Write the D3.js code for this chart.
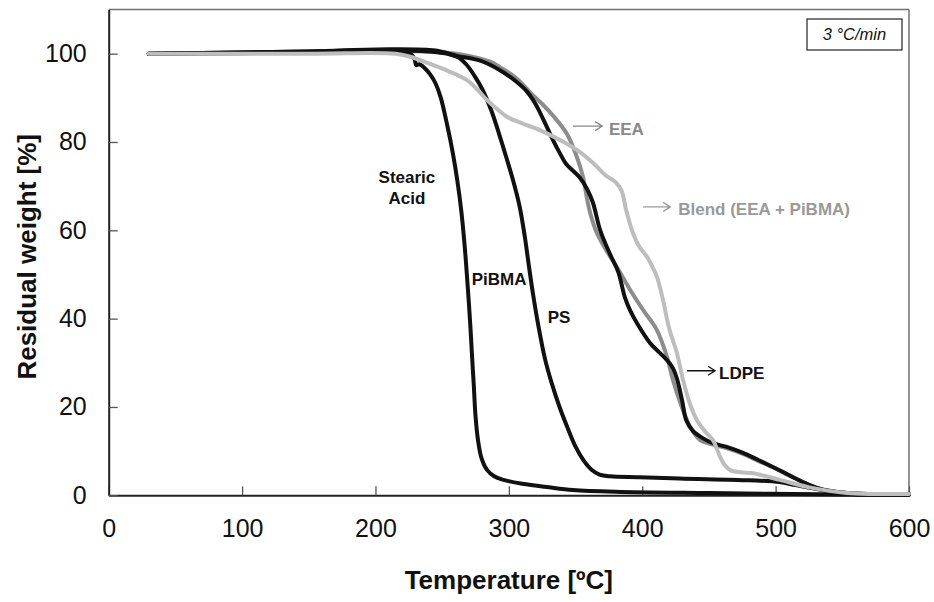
<!DOCTYPE html>
<html><head><meta charset="utf-8">
<script src="https://cdn.jsdelivr.net/npm/d3@7"></script>
<style>body{margin:0;background:#fff}text{font-family:"Liberation Sans",Arial,sans-serif}</style>
</head><body><svg id="c" width="934" height="602"></svg>
<script>
const xTicks=[0,100,200,300,400,500,600];
const yTicks=[0,20,40,60,80,100];
const xLabel="Temperature [ºC]";
const yLabel="Residual weight [%]";
const rateLabel="3 °C/min";

// [temperature °C, residual weight %]
const stearic=[[30,100],[100,100.1],[180,100.3],[222,100.1],[227,99.8],[229.5,98.6],[230.5,97.4],[233,97.6],[237,96.7],[241,95.3],[245,93.3],[249,90],[254,83.5],[258,77.5],[261.5,71],[264.5,64],[267,56],[269,48],[271,39],[272.5,31],[273.7,25],[275,18],[277,12.2],[279.5,8.4],[283.5,5.8],[289,4.3],[296,3.5],[310,2.6],[330,1.8],[348,1.2],[380,0.8],[450,0.5],[550,0.2],[600,0.1]];
const pibma=[[30,100],[150,100.5],[210,100.8],[240,100.5],[255,99.9],[262,99.2],[268,97.6],[274,95.1],[280,92],[287,87],[293,81.5],[298,76.6],[303,71.5],[308,65.5],[312,58.5],[315,52],[318,45.8],[322,38.6],[327,31],[332,25.5],[338,20],[344,15.3],[350,11],[356,7.9],[362,5.8],[368,4.7],[376,4.3],[398,4.1],[428,3.8],[480,3.4],[503,3],[515,2.3],[528,1.6],[540,0.9],[551,0.5],[560,0.2],[600,0.2]];
const ldpe=[[30,100],[150,100.5],[210,101],[245,100.7],[261,99.5],[278.5,98.4],[293,96.3],[305,93.8],[313.6,91.4],[320,88.6],[326,85],[333,80.5],[338,77.6],[343,75],[348,73.5],[353,72],[358.7,69.3],[363,66.3],[368.5,60],[376,54.5],[382,50.6],[387,44.8],[391,41.8],[396,39],[405.8,34.5],[412,32.6],[418.6,30.6],[423,28.8],[426,26.4],[429.8,21.6],[433,17],[438,14.6],[445,13],[453,11.8],[465,10.8],[475.6,9.6],[487,8],[498,6.4],[506,5.2],[513,4.1],[522,2.8],[531,1.7],[542,0.9],[553.6,0.5],[570,0.3],[600,0.3]];
const eea=[[30,100],[150,100.3],[220,100.6],[250,100.3],[270,99.5],[286,98.2],[293,97],[305,94.6],[318,90.6],[325,88.6],[333,86],[343.6,81.8],[351,76.6],[355.6,72.1],[358.7,67],[361,63.9],[366,59.4],[373,55.5],[381,51.7],[391,46.5],[400.6,42],[411,37.4],[418.6,31.3],[423,26.1],[428.6,20.9],[435.9,15.5],[443.4,12.5],[453,11.5],[465,10.5],[476,9.3],[487,7.8],[498,6.3],[513,4.1],[531,1.7],[553.6,0.5],[570,0.3],[600,0.3]];
const blend=[[30,100],[150,100],[215,100],[226,99.3],[240,97.8],[255,96],[268.7,94],[276,92],[283.6,89.5],[291,87.5],[298.6,85.7],[310,84.2],[323.3,82.7],[338,80.5],[351,78.2],[363,75.3],[372,72.6],[380,70.9],[384.5,69],[388,64.5],[393,59.4],[398,56.2],[403.6,54],[408,51.5],[411,49.5],[415.6,44.2],[420,38],[426,32.2],[430.6,26.1],[436,20.5],[441,17],[447,14.5],[453,12.5],[456,10.5],[458.4,8.7],[462,6.8],[466,5.7],[474,5.2],[483,5.0],[503,3.5],[523.6,1.9],[540,1],[553.6,0.5],[570,0.3],[600,0.3]];

const svg=d3.select("#c");
const L=108.7,R=909,T=9.5,B=495.3;
const x=d3.scaleLinear().domain([0,600]).range([L,R]);
const y=d3.scaleLinear().domain([0,110]).range([B,T]);

// frame top/right
svg.append("line").attr("x1",L).attr("x2",R).attr("y1",T).attr("y2",T).attr("stroke","#707070").attr("stroke-width",1.5);
svg.append("line").attr("x1",R).attr("x2",R).attr("y1",T).attr("y2",B).attr("stroke","#707070").attr("stroke-width",1.5);

const xa=svg.append("g").attr("transform",`translate(0,${B})`)
  .call(d3.axisBottom(x).tickValues(xTicks).tickSizeInner(-9).tickSizeOuter(0).tickPadding(24));
const ya=svg.append("g").attr("transform",`translate(${L},0)`)
  .call(d3.axisLeft(y).tickValues(yTicks).tickSizeInner(-9).tickSizeOuter(0).tickPadding(22));
[xa,ya].forEach(a=>{
  a.select(".domain").attr("stroke","#222").attr("stroke-width",2);
  a.selectAll(".tick line").attr("stroke","#555").attr("stroke-width",1.3);
  a.selectAll(".tick text").attr("font-size",25).attr("fill","#111").style("font-family","'Liberation Sans',Arial,sans-serif");
});

const line=d3.line().x(d=>x(d[0])).y(d=>y(d[1])).curve(d3.curveCatmullRom.alpha(0.5));
const series=[
  {d:eea,c:"#8c8c8c"},
  {d:stearic,c:"#111"},
  {d:pibma,c:"#111"},
  {d:ldpe,c:"#111"},
  {d:blend,c:"#bdbdbd"}
];
series.forEach(s=>svg.append("path").attr("d",line(s.d)).attr("fill","none")
  .attr("stroke",s.c).attr("stroke-width",4).attr("stroke-linejoin","round").attr("stroke-linecap","round"));

// axis titles
svg.append("text").attr("x",x(300)).attr("y",589).attr("text-anchor","middle")
  .attr("font-size",26).attr("font-weight","bold").attr("fill","#111").text(xLabel);
svg.append("text").attr("transform",`translate(36,${y(54)}) rotate(-90)`).attr("text-anchor","middle")
  .attr("font-size",26).attr("font-weight","bold").attr("fill","#111").text(yLabel);

// annotations
function label(t,w,txt,col,anchor){
  svg.append("text").attr("x",x(t)).attr("y",y(w)).attr("text-anchor",anchor||"start")
    .attr("font-size",17).attr("font-weight","bold").attr("fill",col).text(txt);
}
function arrow(t1,t2,w,col){
  const x1=x(t1),x2=x(t2),yy=y(w);
  svg.append("path").attr("d",`M${x1},${yy}H${x2}M${x2-7},${yy-4.5}L${x2},${yy}L${x2-7},${yy+4.5}`)
    .attr("fill","none").attr("stroke",col).attr("stroke-width",1.3);
}
label(223.6,70.7,"Stearic","#111","middle");
label(223.6,66,"Acid","#111","middle");
label(272.2,47.6,"PiBMA","#111");
label(329.1,39,"PS","#111");
arrow(348,370,83.6,"#888");
label(375,81.6,"EEA","#888");
arrow(400.6,421,65.3,"#999");
label(427,63.5,"Blend (EEA + PiBMA)","#999");
arrow(433.6,454.6,28.2,"#111");
label(457.6,26.3,"LDPE","#111");

// rate box
svg.append("rect").attr("x",807).attr("y",19).attr("width",95).attr("height",31)
  .attr("fill","#fff").attr("stroke","#222").attr("stroke-width",1.2);
svg.append("text").attr("x",854.5).attr("y",40).attr("text-anchor","middle")
  .attr("font-size",16.5).attr("font-style","italic").attr("fill","#111").text(rateLabel);
</script></body></html>
